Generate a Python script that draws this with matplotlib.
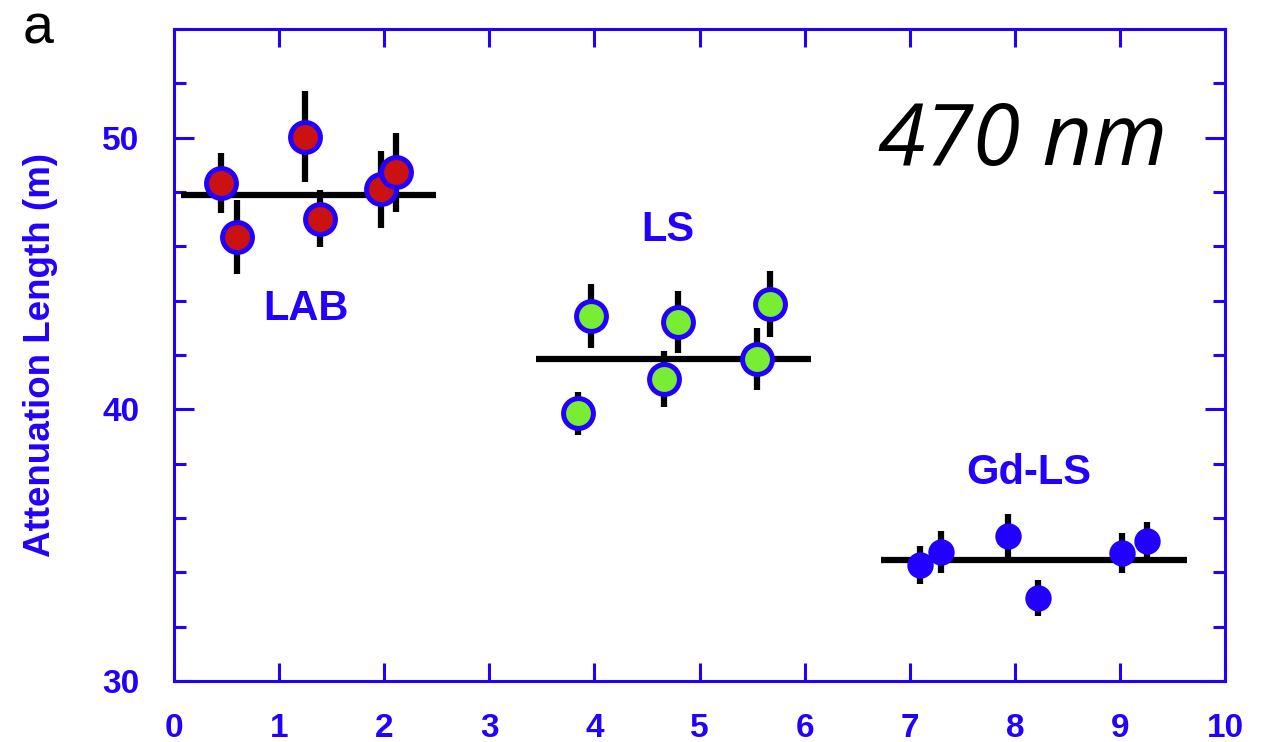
import matplotlib
matplotlib.use("Agg")
import matplotlib.pyplot as plt
from matplotlib.ticker import MultipleLocator

plt.rcParams['font.family'] = ['Liberation Sans', 'DejaVu Sans']

BLUE = '#2200ff'

# LAB samples
lab_x = [0.45, 0.60, 1.25, 1.39, 1.97, 2.11]
lab_y = [48.32, 46.34, 50.04, 47.02, 48.10, 48.72]
lab_err = [1.10, 1.35, 1.66, 1.05, 1.42, 1.45]
lab_mean = 47.90
lab_span = [0.07, 2.49]

# LS samples
ls_x = [3.97, 3.84, 4.80, 4.66, 5.67, 5.55]
ls_y = [43.43, 39.85, 43.22, 41.11, 43.88, 41.84]
ls_err = [1.17, 0.80, 1.13, 1.04, 1.21, 1.14]
ls_mean = 41.84
ls_span = [3.44, 6.06]

# Gd-LS samples
gd_x = [7.10, 7.30, 7.94, 8.22, 9.02, 9.26]
gd_y = [34.26, 34.75, 35.33, 33.06, 34.71, 35.17]
gd_err = [0.70, 0.78, 0.81, 0.66, 0.75, 0.70]
gd_mean = 34.45
gd_span = [6.73, 9.64]

fig = plt.figure(figsize=(12.71, 7.42), dpi=100)
ax = fig.add_axes([174 / 1271, 1 - 681 / 742, 1051 / 1271, 652 / 742])

# mean lines
for span, m in [(lab_span, lab_mean), (ls_span, ls_mean), (gd_span, gd_mean)]:
    ax.plot(span, [m, m], color='black', lw=4.5, solid_capstyle='butt', zorder=2)

# error bars + points
ax.errorbar(lab_x, lab_y, yerr=lab_err, fmt='o', ms=21.5, mfc='#cc1111', mec=BLUE, mew=3.6,
            ecolor='black', elinewidth=4.5, capsize=0, zorder=3)
ax.errorbar(ls_x, ls_y, yerr=ls_err, fmt='o', ms=21.5, mfc='#77ee33', mec=BLUE, mew=3.6,
            ecolor='black', elinewidth=4.5, capsize=0, zorder=3)
ax.errorbar(gd_x, gd_y, yerr=gd_err, fmt='o', ms=19, mfc=BLUE, mec=BLUE, mew=0,
            ecolor='black', elinewidth=4.5, capsize=0, zorder=3)

# group labels
lbl = dict(color=BLUE, fontsize=30, fontweight='bold', ha='center', va='center')
ax.text(1.26, 43.71, 'LAB', **lbl)
ax.text(4.70, 46.59, 'LS', **lbl)
ax.text(8.13, 37.65, 'Gd-LS', **lbl)

ax.text(8.07, 49.0, '470 nm', fontsize=62, style='italic', family=['Open Sans', 'DejaVu Sans'],
        color='black', ha='center', va='baseline')

ax.set_xlim(0, 10)
ax.set_ylim(30, 54)
ax.xaxis.set_major_locator(MultipleLocator(1))
ax.yaxis.set_major_locator(MultipleLocator(10))
ax.yaxis.set_minor_locator(MultipleLocator(2))

for s in ax.spines.values():
    s.set_color(BLUE)
    s.set_linewidth(2.2)

ax.tick_params(axis='both', which='both', direction='in', top=True, right=True,
               color=BLUE, width=2.2, labelcolor=BLUE, labelsize=24)
ax.tick_params(axis='x', which='major', length=13, pad=23)
ax.tick_params(axis='y', which='major', length=14.5, pad=25)
ax.tick_params(axis='y', which='minor', length=8.5)
for t in ax.get_xticklabels() + ax.get_yticklabels():
    t.set_fontweight('bold')

ax.set_ylabel('Attenuation Length (m)', color=BLUE, fontsize=26.5, fontweight='bold', va='center')
ax.yaxis.set_label_coords(-0.127, 0.5)

fig.text(23 / 1271, 1 - 44 / 742, 'a', fontsize=40, color='black', ha='left', va='baseline')

fig.savefig('out.png', dpi=100)
